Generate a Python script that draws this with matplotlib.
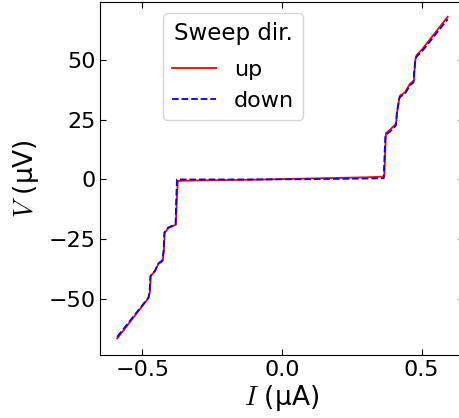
import matplotlib
matplotlib.use("Agg")
import matplotlib.pyplot as plt

plt.rcParams["mathtext.fontset"] = "cm"

# Sweep up (red solid)
I_up = [-0.590, -0.478, -0.473, -0.470, -0.455, -0.443, -0.427, -0.423, -0.420,
        -0.407, -0.380, -0.377, -0.373, -0.30, -0.10, 0.10, 0.300, 0.366,
        0.369, 0.372, 0.387, 0.408, 0.412, 0.421, 0.424, 0.440, 0.458, 0.472,
        0.474, 0.478, 0.482, 0.500, 0.593]
V_up = [-66.5, -49.6, -47.0, -40.3, -38.4, -35.4, -34.0, -30.0, -22.4,
        -20.3, -18.9, -10.0, -0.6, -0.4, -0.1, 0.4, 0.9, 1.2,
        10.0, 19.4, 20.8, 23.3, 28.0, 34.7, 35.2, 36.4, 40.0, 41.3,
        45.0, 50.7, 52.0, 54.2, 68.0]

# Sweep down (blue dashed)
I_down = [-0.590, -0.478, -0.474, -0.471, -0.455, -0.443, -0.428, -0.424, -0.421,
          -0.407, -0.381, -0.379, -0.376, -0.30, -0.10, 0.10, 0.300, 0.364,
          0.367, 0.370, 0.387, 0.408, 0.411, 0.420, 0.423, 0.440, 0.458, 0.471,
          0.473, 0.477, 0.481, 0.500, 0.593]
V_down = [-65.8, -49.4, -47.0, -40.5, -38.2, -35.2, -33.8, -30.0, -22.2,
          -20.1, -18.7, -10.0, 0.0, 0.0, 0.0, 0.1, 0.4, 0.5,
          10.0, 18.6, 20.0, 22.6, 28.0, 33.9, 34.6, 35.8, 39.3, 40.6,
          45.0, 49.9, 51.3, 53.4, 67.0]

x_ticks = [-0.5, 0.0, 0.5]
y_ticks = [-50, -25, 0, 25, 50]

fig = plt.figure(figsize=(4.59, 4.18), dpi=100)
ax = fig.add_axes([100.4 / 459, 1 - 355 / 418, 363.2 / 459, 353 / 418])

ax.plot(I_up, V_up, color="red", lw=1.3, label="up")
ax.plot(I_down, V_down, color="blue", lw=1.3, ls="--", label="down")

ax.set_xlim(-0.65, 0.65)
ax.set_ylim(-73.4, 74.2)
ax.set_xticks(x_ticks)
ax.set_yticks(y_ticks)
ax.tick_params(direction="in", top=True, right=True, length=4, labelsize=16)
ax.set_xlabel(r"$I$ (µA)", fontsize=19, labelpad=2)
ax.set_ylabel(r"$V$ (µV)", fontsize=19, labelpad=5)

leg = ax.legend(title="Sweep dir.", fontsize=16, title_fontsize=16.5,
                loc="upper left", bbox_to_anchor=(0.142, 1.0),
                labelspacing=0.5)
try:
    leg._legend_box.sep = 10.5
except Exception:
    pass

fig.savefig("out.png", dpi=100)
